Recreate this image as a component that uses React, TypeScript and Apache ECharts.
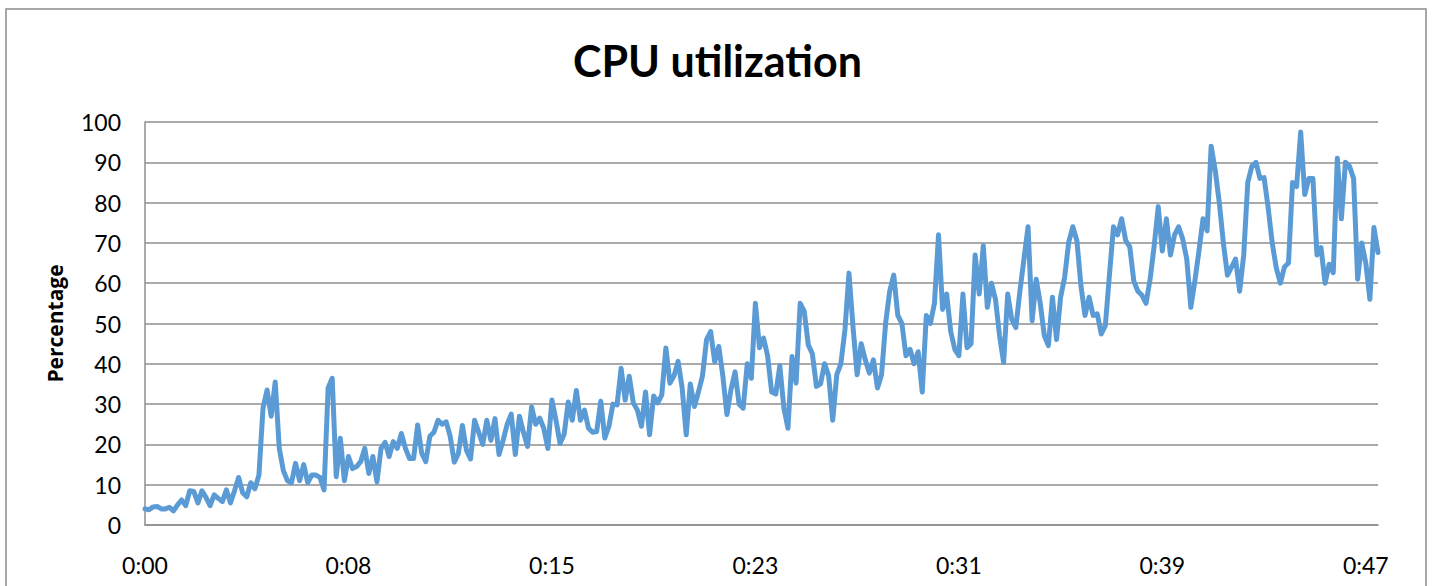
import React, { useEffect, useRef } from "react";
import * as echarts from "echarts";

const tickLabels = ["0:00", "0:08", "0:15", "0:23", "0:31", "0:39", "0:47"];
const labelStep = 50;

const cpuValues = [
  4, 3.8, 4.5, 4.6, 4, 4, 4.4, 3.5, 5, 6.2,
  4.8, 8.5, 8.3, 5.5, 8.5, 6.8, 4.8, 7.5, 6.6, 5.8,
  8.7, 5.5, 8.5, 11.8, 8, 7, 10.5, 9, 12.4, 29,
  33.5, 27, 35.5, 19, 13.5, 11, 10.5, 15.3, 11, 15,
  10.5, 12.4, 12.4, 11.8, 8.7, 34, 36.4, 12, 21.5, 11,
  17, 14, 14.5, 15.7, 19, 12.8, 17, 10.7, 19, 20.5,
  17, 20.7, 19, 22.7, 19, 16.5, 16.5, 24.8, 17.8, 15.7,
  22, 23, 26, 25, 25.6, 22, 15.6, 17.7, 24.7, 18.5,
  16.4, 26, 23, 20, 26, 21, 26.4, 17.5, 21, 25,
  27.5, 17.5, 27, 23, 19.5, 29.3, 25, 26.5, 24, 19,
  31, 26, 20.2, 22.5, 30.5, 26, 33.4, 26, 28.5, 24,
  23, 23.2, 30.7, 21.6, 24.5, 30, 29.8, 38.9, 31, 36.9,
  30.3, 28.5, 24.5, 33, 22.4, 32, 30.3, 32.3, 43.9, 35.2,
  37, 40.6, 34, 22.4, 35, 29.4, 33, 37, 46, 48,
  40.5, 44.3, 37, 27.4, 33.6, 38, 30, 29, 40, 36.4,
  55, 44, 46.4, 42, 33, 32.5, 39.5, 29, 24, 41.8,
  35.2, 55, 53, 44.7, 42.5, 34.4, 35, 40, 37, 26,
  37.3, 40, 48.4, 62.5, 49, 37.3, 45, 41, 37.7, 41,
  34, 37.3, 50, 58, 62, 52, 50, 42, 43.6, 40,
  43, 33, 52, 50, 55, 72, 53.5, 57.3, 48, 43.6,
  42, 57.3, 44, 45, 67, 57.3, 69.3, 54, 60, 56,
  47, 40.3, 57.3, 51, 49, 58, 66, 74, 50.7, 61,
  55, 47, 44.5, 56.5, 46, 56.5, 61.5, 70.2, 74, 70.6,
  59.4, 52, 56.5, 52, 52.4, 47.4, 49.5, 62, 74, 72,
  76, 70.6, 69, 60.5, 58, 57, 55, 61, 69.3, 79,
  68, 76, 67, 72, 74, 71, 66, 54, 60.6, 68,
  76, 73, 94, 88, 80, 70, 62, 64, 66, 58,
  67, 85, 89, 90, 86, 86.2, 78.8, 70, 63.8, 60,
  64, 65, 85, 84, 97.5, 82, 86, 86, 67, 68.8,
  60, 64.7, 62.6, 91, 76, 90, 89, 86, 61, 70,
  65, 56, 73.8, 67.6,
];

const categories = cpuValues.map((_, i) => String(i));

export default function App() {
  const ref = useRef<HTMLDivElement>(null);

  useEffect(() => {
    if (!ref.current) return;
    const chart = echarts.init(ref.current, undefined, { renderer: "svg" });
    const gridColor = "#8e8e8e";
    chart.setOption({
      animation: false,
      backgroundColor: "#ffffff",
      title: {
        text: "CPU utilization",
        left: "center",
        top: 34,
        textStyle: {
          fontFamily: "Lato",
          fontWeight: "bold",
          fontSize: 43,
          color: "#000000",
        },
      },
      graphic: [
        {
          type: "rect",
          shape: { x: 6, y: 9, width: 1420, height: 600 },
          style: { fill: "none", stroke: "#8c8c8c", lineWidth: 1.5 },
          silent: true,
        },
      ],
      grid: { left: 145, right: 57, top: 122, bottom: 61 },
      xAxis: {
        type: "category",
        data: categories,
        boundaryGap: false,
        axisLine: { show: true, lineStyle: { color: gridColor, width: 1.5 } },
        axisTick: { show: false },
        splitLine: { show: false },
        axisLabel: {
          interval: labelStep - 1,
          margin: 28,
          fontFamily: "Lato",
          fontSize: 23,
          color: "#000000",
          formatter: (_v: string, idx: number) =>
            idx % labelStep === 0 ? tickLabels[idx / labelStep] ?? "" : "",
        },
      },
      yAxis: {
        type: "value",
        min: 0,
        max: 100,
        interval: 10,
        name: "Percentage",
        nameLocation: "middle",
        nameRotate: 90,
        nameGap: 80,
        nameTextStyle: {
          fontFamily: "Open Sans",
          fontWeight: "bold",
          fontSize: 21,
          color: "#000000",
        },
        axisLine: { show: true, lineStyle: { color: gridColor, width: 1.5 } },
        axisTick: { show: false },
        splitLine: { show: true, lineStyle: { color: gridColor, width: 1.5 } },
        axisLabel: {
          margin: 24,
          fontFamily: "Lato",
          fontSize: 23,
          color: "#000000",
        },
      },
      series: [
        {
          type: "line",
          data: cpuValues,
          showSymbol: false,
          symbol: "none",
          lineStyle: { color: "#5b9bd5", width: 5, join: "round", cap: "round" },
          itemStyle: { color: "#5b9bd5" },
        },
      ],
    });
    return () => chart.dispose();
  }, []);

  return (
    <div
      ref={ref}
      style={{ position: "absolute", left: 0, top: 0, width: 1435, height: 586 }}
    />
  );
}
